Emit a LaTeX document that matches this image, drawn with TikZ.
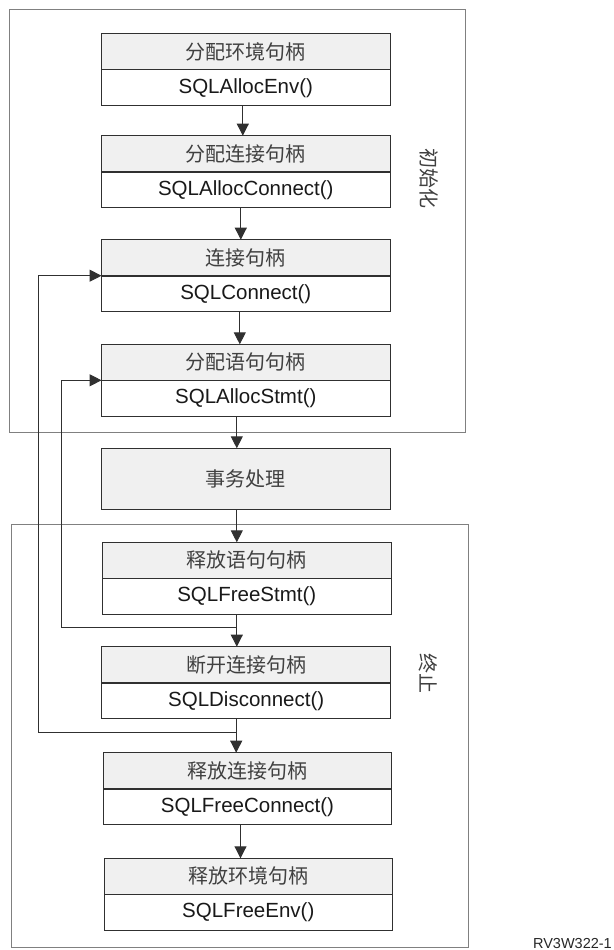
\documentclass[tikz,border=0pt]{standalone}
\usepackage{fontspec}
\setmainfont{Liberation Sans}
\newfontfamily\cjk{Noto Sans CJK SC}
\usetikzlibrary{arrows.meta,calc}
\definecolor{boxline}{HTML}{303030}
\definecolor{frameline}{HTML}{808080}
\definecolor{headfill}{HTML}{F0F0F0}
\definecolor{cjktext}{HTML}{404040}
\tikzset{
  head/.style={draw=boxline, line width=1pt, fill=headfill, minimum width=288.5pt,
    minimum height=36pt, inner sep=0pt, outer sep=0pt, anchor=north,
    font=\cjk\fontsize{20}{22}\selectfont, text=cjktext},
  func/.style={draw=boxline, line width=1pt, fill=white, minimum width=288.5pt,
    minimum height=36pt, inner sep=0pt, outer sep=0pt, anchor=north,
    font=\fontsize{20.5}{22}\selectfont, text=black!90},
  frame/.style={draw=frameline, line width=1pt, inner sep=0pt, outer sep=0pt, anchor=north west},
  side/.style={font=\cjk\fontsize{20}{22}\selectfont, text=cjktext, rotate=-90},
  arr/.style={draw=boxline, line width=0.9pt, -{Triangle[width=12pt,length=12pt]}},
  divider/.style={draw=boxline, line width=1.6pt},
}
\begin{document}
\begin{tikzpicture}[x=1pt,y=-1pt]
\useasboundingbox (0,0) rectangle (613,950);
% frames
\node[frame, minimum width=456.8pt, minimum height=423.4pt] (init) at (9,9.3) {};
\node[frame, minimum width=456.3pt, minimum height=423.3pt] (term) at (11.7,524) {};
\node[side] (initlab) at (429.5,178) {初始化};
\node[side] (termlab) at (428.5,673) {终止};
% boxes
\node[head] (h1) at (245.8,33.7) {分配环境句柄};
\node[func] (f1) at (h1.south) {SQLAllocEnv()};
\node[head] (h2) at (245.8,135.7) {分配连接句柄};
\node[func] (f2) at (h2.south) {SQLAllocConnect()};
\node[head] (h3) at (245.8,239.7) {连接句柄};
\node[func] (f3) at (h3.south) {SQLConnect()};
\node[head] (h4) at (245.8,344.3) {分配语句句柄};
\node[func] (f4) at (h4.south) {SQLAllocStmt()};
\node[head, minimum height=61pt] (h5) at (245.8,448.3) {事务处理};
\node[head] (h6) at (246.8,542.3) {释放语句句柄};
\node[func] (f6) at (h6.south) {SQLFreeStmt()};
\node[head] (h7) at (246.2,646.7) {断开连接句柄};
\node[func] (f7) at (h7.south) {SQLDisconnect()};
\node[head] (h8) at (247.5,752.7) {释放连接句柄};
\node[func] (f8) at (h8.south) {SQLFreeConnect()};
\node[head] (h9) at (248.3,858.3) {释放环境句柄};
\node[func] (f9) at (h9.south) {SQLFreeEnv()};
\foreach \n in {1,2,3,4,6,7,8,9}{
  \draw[divider] (f\n.north west) -- (f\n.north east);
}
% main flow (vertical arrows)
\draw[arr] ([xshift=-3pt]f1.south) -- ([xshift=-3pt]f1.south |- h2.north);
\draw[arr] ([xshift=-5pt]f2.south) -- ([xshift=-5pt]f2.south |- h3.north);
\draw[arr] ([xshift=-6pt]f3.south) -- ([xshift=-6pt]f3.south |- h4.north);
\draw[arr] ([xshift=-9pt]f4.south) -- ([xshift=-9pt]f4.south |- h5.north);
\draw[arr] ([xshift=-9pt]h5.south) -- ([xshift=-9pt]h5.south |- h6.north);
\draw[arr] ([xshift=-10pt]f6.south) -- ([xshift=-10pt]f6.south |- h7.north);
\draw[arr] ([xshift=-10pt]f7.south) -- ([xshift=-10pt]f7.south |- h8.north);
\draw[arr] ([xshift=-7pt]f8.south) -- ([xshift=-7pt]f8.south |- h9.north);
% feedback loops
\coordinate (j2) at (236.8,627);
\coordinate (j1) at (236.2,732.3);
\draw[arr] (j1) -- (38,732.3) |- (f3.north west);
\draw[arr] (j2) -- (61.4,627) |- (f4.north west);
% figure id
\node[font=\fontsize{14.5}{16}\selectfont, text=black!85, anchor=east, inner sep=0pt] (figid) at (612,943) {RV3W322-1};
\end{tikzpicture}
\end{document}
